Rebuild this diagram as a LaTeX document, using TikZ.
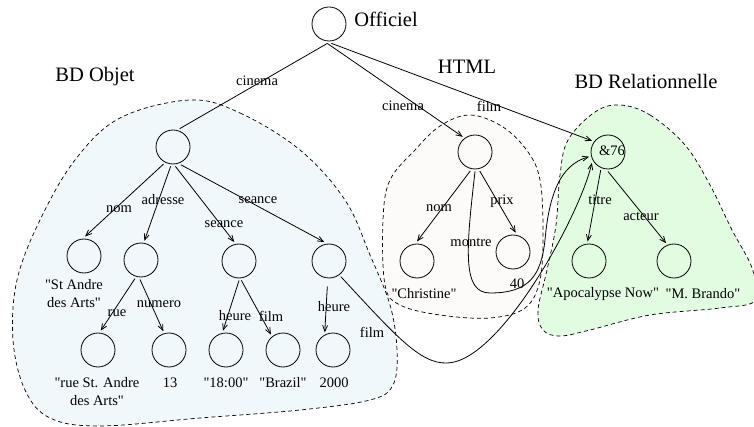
\documentclass[tikz,border=0pt]{standalone}
\usepackage{fontspec}
\setmainfont{Liberation Serif}[Ligatures=TeXOff]
\usetikzlibrary{arrows.meta}
\definecolor{blueF}{RGB}{241,248,252}
\definecolor{htmlF}{RGB}{252,251,249}
\definecolor{greenF}{RGB}{226,252,226}
\tikzset{
  circ/.style={circle, draw, minimum size=34pt, inner sep=0pt, outer sep=2.5pt, line width=0.8pt},
  lbl/.style={font=\fontsize{14.5}{18}\selectfont, inner sep=0pt},
  ttl/.style={font=\fontsize{20.5}{24}\selectfont, inner sep=0pt},
  edge/.style={line width=0.8pt},
  arr/.style={edge, -{Straight Barb[length=6pt,width=5pt]}},
  blob/.style={dash pattern=on 4pt off 3pt, line width=0.7pt}
}
\begin{document}
\begin{tikzpicture}[x=1pt,y=-1pt]
\useasboundingbox (0,0) rectangle (754,427);
% regions
\draw[blob, fill=blueF] plot[smooth cycle, tension=0.6] coordinates {
 (190,100) (240,113) (300,150) (345,200) (370,255) (390,305) (397,350) (393,385)
 (370,400) (300,410) (200,418) (100,426) (50,418) (25,390) (13,340) (17,280)
 (40,220) (75,160) (120,118)};
\draw[blob, fill=htmlF] plot[smooth cycle, tension=0.6] coordinates {
 (470,115) (503,127) (528,152) (540,180) (543,230) (540,280) (525,308) (490,318)
 (440,315) (400,305) (385,285) (383,220) (390,180) (415,150) (440,126)};
\draw[blob, fill=greenF] plot[smooth cycle, tension=0.6] coordinates {
 (620,105) (650,115) (685,145) (710,185) (732,230) (752,268) (756,300) (720,308)
 (650,315) (590,330) (560,336) (543,330) (538,310) (547,270) (556,225) (560,175)
 (568,140) (595,112)};
% titles
\node[ttl] (tOff) at (386,19) {Officiel};
\node[ttl] (tObj) at (95,77) {BD Objet};
\node[ttl] (tHtml) at (467,67) {HTML};
\node[ttl] (tRel) at (646,81) {BD Relationnelle};
% nodes
\node[circ] (off) at (329,24) {};
\node[circ] (obj) at (173,147) {};
\node[circ] (a1) at (84,256) {};
\node[circ] (a2) at (141,260) {};
\node[circ] (a3) at (239,261) {};
\node[circ] (a4) at (329,261) {};
\node[circ] (b1) at (98,350) {};
\node[circ] (b2) at (169,350) {};
\node[circ] (b3) at (226,350) {};
\node[circ] (b4) at (283,350) {};
\node[circ] (b5) at (333,350) {};
\node[circ] (html) at (475,152) {};
\node[circ] (h1) at (417,261) {};
\node[circ] (h2) at (513,252) {};
\node[circ] (rel) at (608,152) {};
\node[circ] (r1) at (589,261) {};
\node[circ] (r2) at (674,261) {};
\node[lbl] (relTxt) at (612,151) {\&76};
% values
\node[lbl, align=center] (v1) at (74,294) {"St Andre\\des Arts"};
\node[lbl, align=center] (v2) at (97,392) {"rue St. Andre\\des Arts"};
\node[lbl] (v3) at (170,383) {13};
\node[lbl] (v4) at (226,383) {"18:00"};
\node[lbl] (v5) at (283,383) {"Brazil"};
\node[lbl] (v6) at (334,383) {2000};
\node[lbl] (v7) at (424,294) {"Christine"};
\node[lbl] (v8) at (517,284) {40};
\node[lbl] (v9) at (603,294) {"Apocalypse Now"};
\node[lbl] (v10) at (703,294) {"M. Brando"};
% edges
\draw[edge] (off.-95) -- (obj.70);
\draw[arr] (off.-95) -- (html.129);
\draw[arr] (off.-83) -- (rel.145);
\draw[arr] (obj.-119) -- (a1.87);
\draw[arr] (obj.-97) -- (a2.80);
\draw[arr] (obj.-83) -- (a3.104);
\draw[arr] (obj.-66) -- (a4.104);
\draw[arr] (a2.-108) -- (b1.82);
\draw[arr] (a2.-93) -- (b2.107);
\draw[arr] (a3.-90) -- (b3.99);
\draw[arr] (a3.-83) -- (b4.128);
\draw[arr, shorten <=6pt] (a4.-94) -- (b5.115);
\draw[arr] (a4.-53) .. controls (395,335) and (420,364) .. (447,363)
  .. controls (500,362) and (580,215) .. (rel.214);
\draw[arr] (html.-104) -- (h1.90);
\draw[arr] (html.-76) -- (h2.82);
\draw[arr] (html.-90) .. controls (466,250) and (462,293) .. (490,293)
  .. controls (530,293) and (541,275) .. (545,240)
  .. controls (549,195) and (560,165) .. (rel.194);
\draw[arr] (rel.-112) -- (r1.94);
\draw[arr] (rel.-90) -- (r2.114);
% edge labels
\node[lbl] (e1) at (257,81) {cinema};
\node[lbl] (e2) at (403,106) {cinema};
\node[lbl] (e3) at (489,106) {film};
\node[lbl] (e4) at (119,209) {nom};
\node[lbl] (e5) at (163,200) {adresse};
\node[lbl] (e6) at (258,200) {seance};
\node[lbl] (e7) at (224,224) {seance};
\node[lbl] (e8) at (117,313) {rue};
\node[lbl] (e9) at (159,304) {numero};
\node[lbl] (e10) at (235,316) {heure};
\node[lbl] (e11) at (271,316) {film};
\node[lbl] (e12) at (334,307) {heure};
\node[lbl] (e13) at (372,332) {film};
\node[lbl] (e14) at (439,208) {nom};
\node[lbl] (e15) at (502,201) {prix};
\node[lbl] (e16) at (471,242) {montre};
\node[lbl] (e17) at (600,200) {titre};
\node[lbl] (e18) at (641,216) {acteur};
\end{tikzpicture}
\end{document}
